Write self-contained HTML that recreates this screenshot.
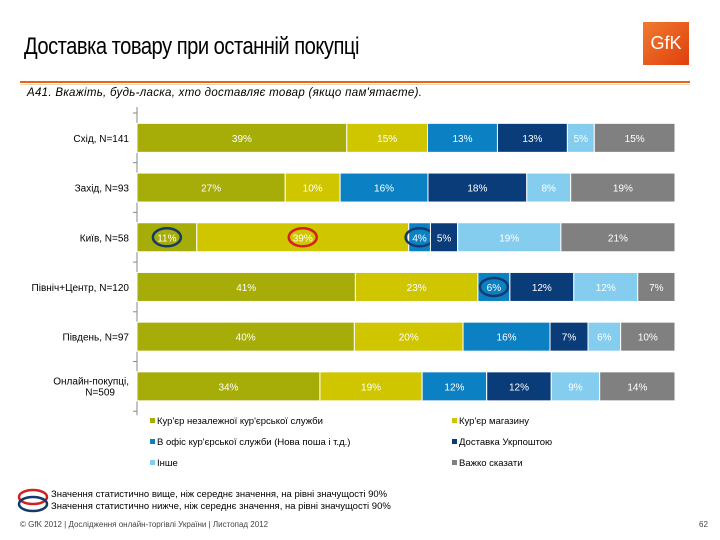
<!DOCTYPE html>
<html><head><meta charset="utf-8">
<style>
body{margin:0;width:720px;height:540px;background:#fff;font-family:"Liberation Sans","Noto Sans CJK SC",sans-serif;position:relative;overflow:hidden}
.abs{position:absolute}
</style></head><body>
<div class="abs" style="left:24px;top:33px;font-size:24px;letter-spacing:-0.6px;transform:scaleX(0.84);transform-origin:left;white-space:nowrap">Доставка товару при останній покупці</div>
<div class="abs" style="left:643px;top:22px;width:46px;height:43px;background:linear-gradient(135deg,#f07a30,#e0400c);color:#fff;font-size:18px;line-height:43px;text-align:center">GfK</div>
<div class="abs" style="left:20px;top:81px;width:670px;height:2px;background:#e8641e"></div>
<div class="abs" style="left:20px;top:84px;width:670px;height:1px;background:#e8d8b0"></div>
<div class="abs" style="left:27px;top:87px;font-size:11.5px;font-style:italic;letter-spacing:0.3px">А41. Вкажіть, будь-ласка, хто доставляє товар (якщо пам'ятаєте).</div>
<svg class="abs" style="left:0;top:0" width="720" height="540" id="chart"></svg>
<div class="abs" style="left:51px;top:489px;font-size:9.5px">Значення статистично вище, ніж середнє значення, на рівні значущості 90%</div>
<div class="abs" style="left:51px;top:501px;font-size:9.5px">Значення статистично нижче, ніж середнє значення, на рівні значущості 90%</div>
<svg class="abs" style="left:16px;top:488px" width="36" height="26">
<ellipse cx="17" cy="9" rx="14" ry="7" fill="none" stroke="#d02020" stroke-width="2.5"/>
<ellipse cx="17" cy="16" rx="14" ry="7" fill="none" stroke="#123a6a" stroke-width="2.5"/>
</svg>
<div class="abs" style="left:20px;top:520px;font-size:8px;color:#444">© GfK 2012 | Дослідження онлайн-торгівлі України | Листопад 2012</div>
<div class="abs" style="left:699px;top:520px;font-size:8px;color:#444">62</div>
<script>
const categories=["Схід, N=141","Захід, N=93","Київ, N=58","Північ+Центр, N=120","Південь, N=97","Онлайн-покупці, N=509"];
const seriesNames=["Кур'єр незалежної кур'єрської служби","Кур'єр магазину","В офіс кур'єрської служби (Нова поша і т.д.)","Доставка Укрпоштою","Інше","Важко сказати"];
const s1=[39,27,11,41,40,34];
const s2=[15,10,39,23,20,19];
const s3=[13,16,4,6,16,12];
const s4=[13,18,5,12,7,12];
const s5=[5,8,19,12,6,9];
const s6=[15,19,21,7,10,14];
const series=[s1,s2,s3,s4,s5,s6];
const colors=["#a6ad08","#cfc600","#0b80c2","#0b3c7a","#84cdef","#808080"];
const circles=[[2,0,"#123a6a"],[2,1,"#d02020"],[2,2,"#123a6a"],[3,2,"#123a6a"]];
const svg=document.getElementById('chart');const NS="http://www.w3.org/2000/svg";
const x0=137,W=538,yTop=113,rowH=49.7,barH=29;
function mk(t,a){const e=document.createElementNS(NS,t);for(const k in a)e.setAttribute(k,a[k]);svg.appendChild(e);return e;}
function yRow(i){return yTop+i*rowH+(rowH-barH)/2;}
function xs(v,tot){return v/tot*W;}
const ax=mk('line',{x1:x0,y1:yTop-6,x2:x0,y2:yTop+6*rowH+4,stroke:'#888','stroke-width':1});

for(let i=0;i<=6;i++){const tk=mk('line',{x1:x0-4,x2:x0,y1:yTop+i*rowH,y2:yTop+i*rowH,stroke:'#888'});}
categories.forEach((c,i)=>{
  let tot=0;series.forEach(s=>tot+=s[i]);
  let x=x0;const y=yRow(i);
  const parts=c.split(/(?<=,) (?=N=509)/);
  const lab=mk('text',{x:x0-8,y:y+barH/2+4,'text-anchor':'end','font-size':10,fill:'#000'});
  
  if(parts.length>1){lab.setAttribute('y',y+barH/2-2);const a=document.createElementNS(NS,'tspan');a.textContent=parts[0];lab.appendChild(a);const b=document.createElementNS(NS,'tspan');b.setAttribute('x',x0-22);b.setAttribute('dy',11);b.textContent=parts[1];lab.appendChild(b);}else lab.textContent=c;
  series.forEach((s,k)=>{
    const w=xs(s[i],tot);
    const r=mk('rect',{x:x,y:y,width:w,height:barH,fill:colors[k],stroke:'#fff','stroke-width':1});
    
    const t=mk('text',{x:x+w/2,y:y+barH/2+4,'text-anchor':'middle','font-size':10,fill:'#fff'});
    
    t.textContent=s[i]+"%";
    circles.forEach(cc=>{if(cc[0]===i&&cc[1]===k){const e=mk('ellipse',{cx:x+w/2,cy:y+barH/2,rx:14,ry:9,fill:'none',stroke:cc[2],'stroke-width':2.5});}});
    x+=w;
  });
});
seriesNames.forEach((n,k)=>{
  const col=k%2,row=Math.floor(k/2);
  const lx=col?452:150,ly=424+row*21;
  const m=mk('rect',{x:lx,y:ly-6,width:5,height:5,fill:colors[k]});
  
  const t=mk('text',{x:lx+7,y:ly,'font-size':9.5,fill:'#000'});
  
  t.textContent=n;
});
</script>
</body></html>
